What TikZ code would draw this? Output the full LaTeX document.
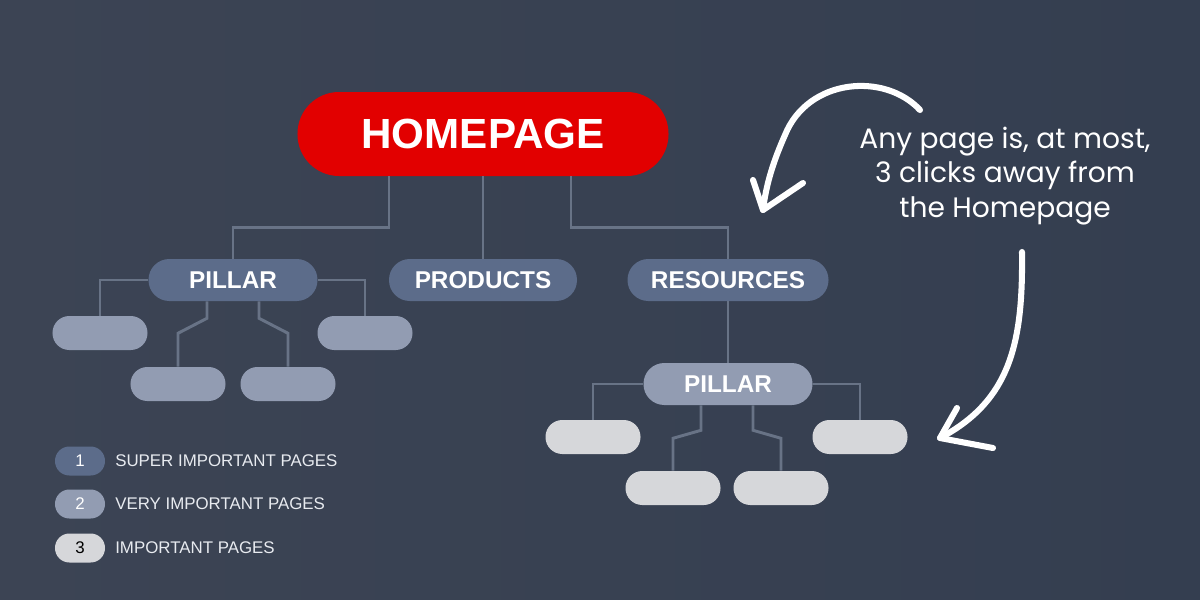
\documentclass[tikz,border=0pt]{standalone}
\usepackage{fontspec}
\setmainfont{Liberation Sans}
\newfontfamily\notefont{Poppins}
\usetikzlibrary{calc}
\definecolor{homered}{RGB}{226,0,0}
\definecolor{lvlone}{RGB}{92,108,138}
\definecolor{lvltwo}{RGB}{146,156,178}
\definecolor{lvlthree}{RGB}{214,215,218}
\definecolor{wire}{RGB}{104,115,134}
\definecolor{bgleft}{RGB}{60,68,84}
\definecolor{bgmid}{RGB}{34,44,61}
\definecolor{bgright}{RGB}{52,62,80}
\definecolor{keyink}{RGB}{232,235,240}
\tikzset{
  home/.style={rectangle, rounded corners=10.4mm, fill=homered, text=white, inner sep=0pt,
    minimum width=92.75mm, minimum height=21mm, font=\fontsize{30}{32}\selectfont\bfseries},
  topic/.style={rectangle, rounded corners=5.2mm, fill=lvlone, text=white, inner sep=0pt,
    minimum height=10.5mm, font=\fontsize{17.3}{19}\selectfont\bfseries},
  leaf/.style={rectangle, rounded corners=4.2mm, inner sep=0pt, minimum width=23.75mm, minimum height=8.5mm},
  key/.style={rectangle, rounded corners=3.6mm, inner sep=0pt, minimum width=12.5mm, minimum height=7.25mm,
    font=\fontsize{12}{14}\selectfont},
  keylabel/.style={anchor=west, text=keyink, inner sep=0pt, font=\fontsize{12}{14}\selectfont},
  link/.style={draw=wire, line width=2.1pt},
  hand/.style={draw=white, line width=4.3pt, line cap=round, line join=round},
  note/.style={text=white, align=center, font=\notefont\fontsize{20}{24.5}\selectfont}
}
\begin{document}
\begin{tikzpicture}[x=0.25mm, y=-0.25mm]
    % Draw the background
    \useasboundingbox (0,0) rectangle (1200,600);
    \shade[left color=bgleft, middle color=bgmid, right color=bgright] (0,0) rectangle (1200,600);
    % Draw the homepage
    \node[home] (home) at (483,134) {HOMEPAGE};
    % Draw the first level
    \node[topic, minimum width=42.25mm] (pillarL) at (233,280) {PILLAR};
    \node[topic, minimum width=47mm] (products) at (483,280) {PRODUCTS};
    \node[topic, minimum width=50.25mm] (resources) at (728,280) {RESOURCES};
    \draw[link] ($(home.south)+(-94,0)$) -- ++(0,51) -| (pillarL.north);
    \draw[link] (home.south) -- (products.north);
    \draw[link] ($(home.south)+(88,0)$) -- ++(0,51) -| (resources.north);
    % Draw the left pillar pages
    \node[leaf, fill=lvltwo] (leafL1) at (100,333) {};
    \node[leaf, fill=lvltwo] (leafL2) at (178,384) {};
    \node[leaf, fill=lvltwo] (leafL3) at (288,384) {};
    \node[leaf, fill=lvltwo] (leafL4) at (365,333) {};
    \draw[link] (pillarL.west) -| (leafL1.north);
    \draw[link] ($(pillarL.south)+(-26,0)$) -- ++(0,17) -- ++(-29,15) -- (leafL2.north);
    \draw[link] ($(pillarL.south)+(26,0)$) -- ++(0,17) -- ++(29,15) -- (leafL3.north);
    \draw[link] (pillarL.east) -| (leafL4.north);
    % Draw the resources pillar
    \node[topic, fill=lvltwo, minimum width=42.25mm] (pillarR) at (728,384) {PILLAR};
    \draw[link] (resources.south) -- (pillarR.north);
    \node[leaf, fill=lvlthree] (leafR1) at (593,437) {};
    \node[leaf, fill=lvlthree] (leafR2) at (673,488) {};
    \node[leaf, fill=lvlthree] (leafR3) at (781,488) {};
    \node[leaf, fill=lvlthree] (leafR4) at (860,437) {};
    \draw[link] (pillarR.west) -| (leafR1.north);
    \draw[link] ($(pillarR.south)+(-27,0)$) -- ++(0,25) -- ++(-28,8) -- (leafR2.north);
    \draw[link] ($(pillarR.south)+(25,0)$) -- ++(0,25) -- ++(28,8) -- (leafR3.north);
    \draw[link] (pillarR.east) -| (leafR4.north);
    % Draw the legend
    \node[key, fill=lvlone, text=white] (key1) at (80,461) {1};
    \node[key, fill=lvltwo, text=white] (key2) at (80,504) {2};
    \node[key, fill=lvlthree, text=black] (key3) at (80,548) {3};
    \node[keylabel] (lab1) at (115,461) {SUPER IMPORTANT PAGES};
    \node[keylabel] (lab2) at (115,504) {VERY IMPORTANT PAGES};
    \node[keylabel] (lab3) at (115,548) {IMPORTANT PAGES};
    % Draw the note
    \node[note] (note) at (1005,176) {Any page is, at most,\\3 clicks away from\\the Homepage};
    % Draw the hand arrows
    \draw[hand] (920,110) .. controls (885,72) and (808,78) .. (785,135)
      .. controls (773,162) and (766,185) .. (763,210);
    \draw[hand] (753,180) -- (763,210) -- (803,183);
    \draw[hand] (1022,252) .. controls (1023,340) and (1012,400) .. (940,438);
    \draw[hand] (957,408) -- (940,438) -- (993,448);
\end{tikzpicture}
\end{document}
